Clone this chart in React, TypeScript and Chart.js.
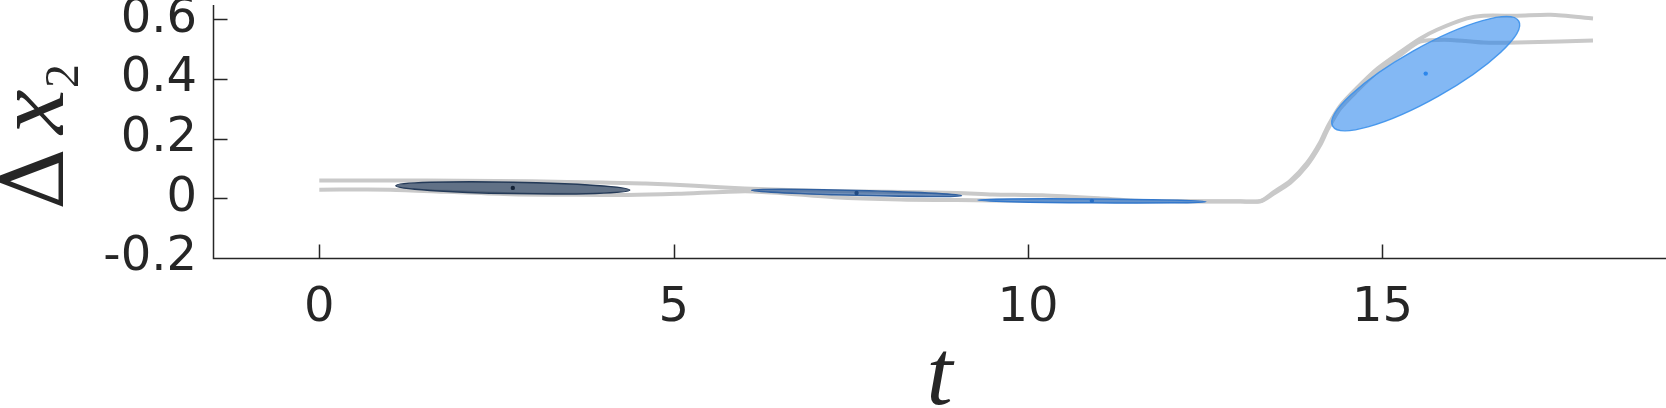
import React, { useEffect, useRef } from "react";
import { Chart, registerables } from "chart.js";

Chart.register(...registerables);

// ---- data ----
const traceAT = [0, 1, 2, 3, 4, 4.6, 5.3, 6, 7, 8, 9, 9.5, 10.2, 11, 11.5, 12, 12.5, 13, 13.28, 13.46, 13.7, 13.94, 14.12, 14.23, 14.4, 14.64, 14.93, 15.25, 15.53, 15.77, 16.19, 16.42, 16.9, 17.37, 17.97];
const traceAV = [0.06, 0.06, 0.059, 0.057, 0.053, 0.05, 0.042, 0.033, 0.025, 0.022, 0.018, 0.013, 0.01, 0.0, -0.008, -0.009, -0.01, -0.01, -0.009, 0.02, 0.059, 0.12, 0.187, 0.242, 0.309, 0.37, 0.435, 0.49, 0.535, 0.565, 0.603, 0.612, 0.612, 0.615, 0.603];
const traceBT = [0, 1, 1.8, 2.7, 3.5, 4.35, 5.05, 6, 6.5, 7.26, 8.2, 9, 10, 11, 12, 13, 13.28, 13.46, 13.7, 13.94, 14.12, 14.23, 14.4, 14.64, 14.93, 15.25, 15.53, 15.96, 16.42, 16.9, 17.5, 17.97];
const traceBV = [0.029, 0.029, 0.022, 0.014, 0.012, 0.011, 0.015, 0.024, 0.018, 0.004, -0.004, -0.006, -0.008, -0.009, -0.01, -0.011, -0.01, 0.015, 0.052, 0.112, 0.178, 0.232, 0.3, 0.36, 0.425, 0.48, 0.525, 0.531, 0.522, 0.522, 0.526, 0.529];

// ellipses: centers, major semi-axis offsets (data units), minor semi-axis (value units)
const centerT = [2.73, 7.58, 10.9, 15.61];
const centerV = [0.035, 0.018, -0.0085, 0.418];
const majorDT = [1.65, 1.48, 1.61, 1.313];
const majorDV = [-0.0072, -0.009, -0.0028, 0.1757];
const minorV = [0.019, 0.008, 0.0065, 0.0867];
const ellipseFill = ["rgba(30,52,82,0.7)", "rgba(40,88,152,0.65)", "rgba(40,115,205,0.62)", "rgba(30,125,235,0.55)"];
const ellipseStroke = ["rgb(36,58,88)", "rgb(48,96,160)", "rgb(50,120,205)", "rgba(60,145,235,0.9)"];
const dotColors = ["rgb(20,35,55)", "rgb(35,75,130)", "rgb(40,110,195)", "rgb(45,135,235)"];

const xTicks = [0, 5, 10, 15];
const xTickLabels = ["0", "5", "10", "15"];
const yTicks = [-0.2, 0, 0.2, 0.4, 0.6];
const yTickLabels = ["-0.2", "0", "0.2", "0.4", "0.6"];

const TEXT = "#262626";

const ellipsePlugin = {
  id: "ellipses",
  beforeDatasetDraw(chart: any, args: any) {
    if (args.index !== 0) return;
    const xs = chart.scales.x;
    const ys = chart.scales.y;
    const ctx = chart.ctx;
    ctx.save();
    for (let i = 0; i < centerT.length; i++) {
      const cx = xs.getPixelForValue(centerT[i]);
      const cy = ys.getPixelForValue(centerV[i]);
      const mx = xs.getPixelForValue(centerT[i] + majorDT[i]) - cx;
      const my = ys.getPixelForValue(centerV[i] + majorDV[i]) - cy;
      const a = Math.hypot(mx, my);
      const ang = Math.atan2(my, mx);
      const b = Math.abs(ys.getPixelForValue(centerV[i] + minorV[i]) - cy);
      ctx.beginPath();
      ctx.ellipse(cx, cy, a, b, ang, 0, Math.PI * 2);
      ctx.fillStyle = ellipseFill[i];
      ctx.fill();
      ctx.lineWidth = 1.5;
      ctx.strokeStyle = ellipseStroke[i];
      ctx.stroke();
    }
    ctx.restore();
  },
};

const decorPlugin = {
  id: "decor",
  afterDraw(chart: any) {
    const ctx = chart.ctx;
    const xs = chart.scales.x;
    const ys = chart.scales.y;
    const area = chart.chartArea;
    ctx.save();
    ctx.strokeStyle = TEXT;
    ctx.lineWidth = 1.5;
    ctx.beginPath();
    // axis lines
    const L = Math.round(area.left) + 0.5;
    const B = Math.round(area.bottom) + 0.5;
    ctx.moveTo(L, area.top);
    ctx.lineTo(L, B);
    ctx.lineTo(area.right, B);
    // inward tick marks
    for (const v of xTicks) {
      const px = Math.round(xs.getPixelForValue(v)) + 0.5;
      ctx.moveTo(px, B);
      ctx.lineTo(px, B - 14);
    }
    for (const v of yTicks) {
      const py = Math.round(ys.getPixelForValue(v)) + 0.5;
      ctx.moveTo(L, py);
      ctx.lineTo(L + 14, py);
    }
    ctx.stroke();

    // x title
    ctx.fillStyle = TEXT;
    ctx.textAlign = "center";
    ctx.textBaseline = "alphabetic";
    ctx.font = "italic 94px 'Liberation Serif'";
    ctx.fillText("t", (area.left + area.right) / 2, 404);

    // y title: Δx₂ rotated
    ctx.translate(63, 133);
    ctx.rotate(-Math.PI / 2);
    ctx.textAlign = "left";
    const put = (s: string, font: string, left: number, base: number) => {
      ctx.font = font;
      const m = ctx.measureText(s);
      ctx.fillText(s, left + m.actualBoundingBoxLeft, base);
    };
    put("Δ", "86px 'DejaVu Serif'", -74, 0);
    put("x", "italic 100px 'Liberation Serif'", -3, 0);
    put("2", "48px 'Liberation Serif'", 47, 15);
    ctx.restore();
  },
};

export default function App() {
  const ref = useRef<HTMLCanvasElement>(null);
  useEffect(() => {
    document.body.style.margin = "0";
    const canvas = ref.current;
    if (!canvas) return;
    const chart = new Chart(canvas, {
      type: "line",
      data: {
        datasets: [
          {
            type: "scatter",
            data: centerT.map((t, i) => ({ x: t, y: centerV[i] })),
            pointRadius: 2.2,
            pointBackgroundColor: dotColors,
            pointBorderWidth: 0,
            showLine: false,
          } as any,
          {
            data: traceAT.map((t, i) => ({ x: t, y: traceAV[i] })),
            borderColor: "#c9c9c9",
            borderWidth: 4,
            pointRadius: 0,
            tension: 0.25,
            fill: false,
          },
          {
            data: traceBT.map((t, i) => ({ x: t, y: traceBV[i] })),
            borderColor: "#c9c9c9",
            borderWidth: 4,
            pointRadius: 0,
            tension: 0.25,
            fill: false,
          },
        ],
      },
      options: {
        responsive: false,
        animation: false,
        devicePixelRatio: 1,
        layout: { autoPadding: false, padding: { top: 5, left: 0, right: 0, bottom: 0 } },
        plugins: { legend: { display: false }, tooltip: { enabled: false }, title: { display: false } },
        events: [],
        scales: {
          x: {
            type: "linear",
            min: -1.5,
            max: 19,
            grid: { display: false, drawTicks: false, tickLength: 0 },
            border: { display: false },
            ticks: {
              color: TEXT,
              font: { family: "'DejaVu Sans'", size: 48 },
              padding: 22,
              maxRotation: 0,
              autoSkip: false,
              callback: (v: any) => {
                const i = xTicks.indexOf(Number(v));
                return i >= 0 ? xTickLabels[i] : "";
              },
            },
            afterBuildTicks: (s: any) => {
              s.ticks = xTicks.map((v) => ({ value: v }));
            },
            afterFit: (s: any) => {
              s.height = 150;
              s.paddingLeft = 0;
              s.paddingRight = 0;
            },
          },
          y: {
            type: "linear",
            min: -0.2,
            max: 0.648,
            grid: { display: false, drawTicks: false, tickLength: 0 },
            border: { display: false },
            ticks: {
              color: TEXT,
              font: { family: "'DejaVu Sans'", size: 48 },
              padding: 16,
              autoSkip: false,
              callback: (v: any) => {
                const i = yTicks.findIndex((t) => Math.abs(t - Number(v)) < 1e-9);
                return i >= 0 ? yTickLabels[i] : "";
              },
            },
            afterBuildTicks: (s: any) => {
              s.ticks = yTicks.map((v) => ({ value: v }));
            },
            afterFit: (s: any) => {
              s.width = 213;
              s.paddingTop = 0;
              s.paddingBottom = 0;
            },
          },
        },
      } as any,
      plugins: [ellipsePlugin, decorPlugin],
    });
    return () => chart.destroy();
  }, []);
  return (
    <div style={{ position: "absolute", left: 0, top: 0, width: 1666, height: 408, background: "#fff" }}>
      <canvas ref={ref} width={1666} height={408} />
    </div>
  );
}
